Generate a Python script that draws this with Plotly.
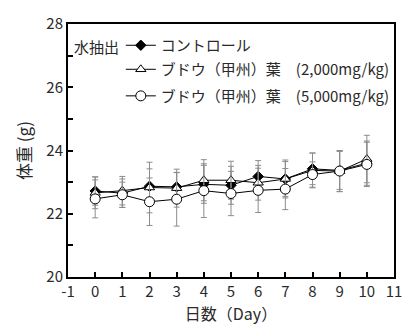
import plotly.graph_objects as go

days = list(range(0, 11))

ctrl_mean = [22.72, 22.65, 22.87, 22.85, 22.93, 22.90, 23.18, 23.10, 23.42, 23.37, 23.60]
ctrl_sd = [0.45, 0.45, 0.55, 0.45, 0.60, 0.60, 0.50, 0.55, 0.50, 0.60, 0.70]

low_mean = [22.66, 22.73, 22.83, 22.81, 23.06, 23.06, 22.98, 23.10, 23.37, 23.35, 23.73]
low_sd = [0.50, 0.45, 0.80, 0.60, 0.65, 0.60, 0.55, 0.60, 0.55, 0.65, 0.75]

high_mean = [22.47, 22.60, 22.38, 22.46, 22.73, 22.64, 22.74, 22.78, 23.24, 23.35, 23.56]
high_sd = [0.60, 0.40, 0.75, 0.85, 0.85, 0.70, 0.70, 0.65, 0.40, 0.65, 0.70]

names = ["コントロール", "ブドウ（甲州）葉　(2,000mg/kg)", "ブドウ（甲州）葉　(5,000mg/kg)"]
x_ticks = list(range(-1, 12))
y_ticks = list(range(20, 29))
y_labels = [str(v) if v % 2 == 0 else "" for v in y_ticks]

FONT = "Noto Sans CJK JP"
TXT = "#2a2a2a"

series = [
    (ctrl_mean, ctrl_sd, names[0], dict(symbol="diamond", size=8, color="black",
                                        line=dict(color="black", width=1)), "legend"),
    (low_mean, low_sd, names[1], dict(symbol="triangle-up", size=9, color="white",
                                      line=dict(color="black", width=1)), "legend2"),
    (high_mean, high_sd, names[2], dict(symbol="circle", size=10, color="white",
                                        line=dict(color="black", width=1)), "legend3"),
]

fig = go.Figure()
for mean, sd, name, marker, lg in series:
    fig.add_trace(go.Scatter(
        x=days, y=mean, name=name, mode="lines+markers",
        line=dict(color="black", width=1),
        marker=marker,
        error_y=dict(type="data", array=sd, visible=True, color="#8c8c8c",
                     thickness=1, width=3),
        legend=lg,
    ))

# one legend box per row so the row spacing can be set freely
leg_common = dict(font=dict(family=FONT, size=15, color=TXT), bgcolor="rgba(0,0,0,0)",
                  xanchor="left", yanchor="middle", itemwidth=30, borderwidth=0)
fig.update_layout(
    legend=dict(x=0.162, y=0.915, **leg_common),
    legend2=dict(x=0.162, y=0.82, **leg_common),
    legend3=dict(x=0.162, y=0.715, **leg_common),
)

fig.add_annotation(text="水抽出", xref="paper", yref="paper", x=0.012, y=0.912,
                   xanchor="left", yanchor="middle", showarrow=False,
                   font=dict(family=FONT, size=15, color=TXT))

fig.update_xaxes(
    range=[-1, 11], tickmode="array", tickvals=x_ticks,
    ticktext=[str(v) for v in x_ticks],
    ticks="inside", ticklen=5, tickwidth=2, tickcolor="black",
    showline=True, linecolor="black", linewidth=2, mirror=True,
    showgrid=False, zeroline=False,
    tickfont=dict(family=FONT, size=15, color=TXT),
    title=dict(text="日数（Day）", font=dict(family=FONT, size=16, color=TXT), standoff=2),
)
fig.update_yaxes(
    range=[20, 28], tickmode="array", tickvals=y_ticks, ticktext=y_labels,
    ticks="inside", ticklen=5, tickwidth=2, tickcolor="black",
    showline=True, linecolor="black", linewidth=2, mirror=True,
    showgrid=False, zeroline=False,
    tickfont=dict(family=FONT, size=15, color=TXT),
    title=dict(text="体重 (g)", font=dict(family=FONT, size=17, color=TXT), standoff=10),
)

fig.update_layout(
    width=414, height=334,
    margin=dict(l=68, r=13, t=20, b=57),
    plot_bgcolor="white", paper_bgcolor="white",
    showlegend=True,
    font=dict(family=FONT),
)

fig.write_html("out.html", config={"displayModeBar": False})
